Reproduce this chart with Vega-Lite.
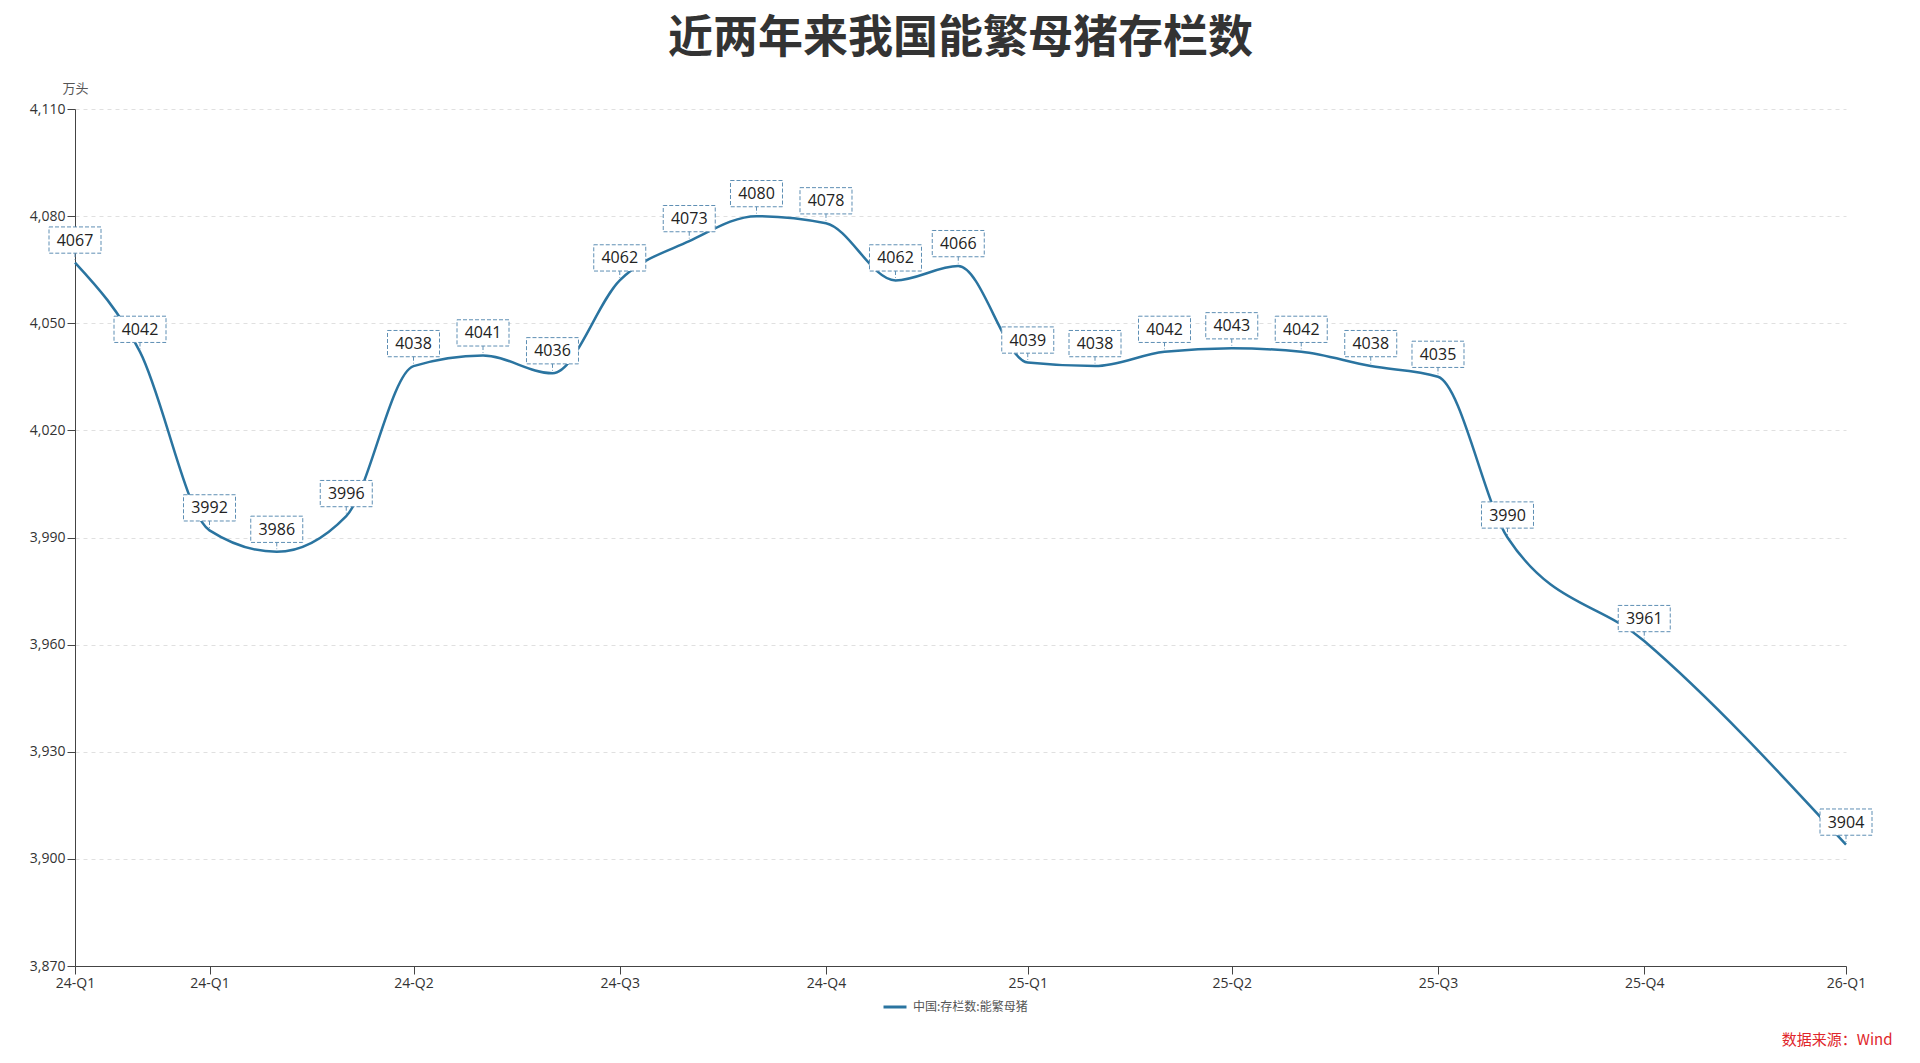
{
  "$schema": "https://vega.github.io/schema/vega-lite/v6.json",
  "width": 1771,
  "height": 857,
  "autosize": {"type": "none"},
  "padding": {"left": 75, "top": 109, "right": 74, "bottom": 97},
  "background": "white",
  "title": {
    "text": "近两年来我国能繁母猪存栏数",
    "font": "Noto Sans CJK SC",
    "fontSize": 45,
    "fontWeight": "bold",
    "color": "#333333",
    "anchor": "middle",
    "frame": "group",
    "offset": 20
  },
  "data": {
    "values": [
      {"date": "2024-01-31", "value": 4067},
      {"date": "2024-02-29", "value": 4042},
      {"date": "2024-03-31", "value": 3992},
      {"date": "2024-04-30", "value": 3986},
      {"date": "2024-05-31", "value": 3996},
      {"date": "2024-06-30", "value": 4038},
      {"date": "2024-07-31", "value": 4041},
      {"date": "2024-08-31", "value": 4036},
      {"date": "2024-09-30", "value": 4062},
      {"date": "2024-10-31", "value": 4073},
      {"date": "2024-11-30", "value": 4080},
      {"date": "2024-12-31", "value": 4078},
      {"date": "2025-01-31", "value": 4062},
      {"date": "2025-02-28", "value": 4066},
      {"date": "2025-03-31", "value": 4039},
      {"date": "2025-04-30", "value": 4038},
      {"date": "2025-05-31", "value": 4042},
      {"date": "2025-06-30", "value": 4043},
      {"date": "2025-07-31", "value": 4042},
      {"date": "2025-08-31", "value": 4038},
      {"date": "2025-09-30", "value": 4035},
      {"date": "2025-10-31", "value": 3990},
      {"date": "2025-12-31", "value": 3961},
      {"date": "2026-03-31", "value": 3904}
    ]
  },
  "encoding": {
    "x": {
      "field": "date",
      "type": "temporal",
      "scale": {
        "type": "utc",
        "nice": false,
        "domain": [
          {"year": 2024, "month": 1, "date": 31, "utc": true},
          {"year": 2026, "month": 3, "date": 31, "utc": true}
        ]
      },
      "axis": {
        "title": "数据来源：Wind",
        "titleX": 1817,
        "titleY": 73,
        "titleAlign": "right",
        "titleBaseline": "middle",
        "titleColor": "#e0262b",
        "titleFont": "Noto Sans CJK SC",
        "titleFontSize": 15,
        "titleFontWeight": "normal",
        "values": [
          {"year": 2024, "month": 1, "date": 31, "utc": true},
          {"year": 2024, "month": 3, "date": 31, "utc": true},
          {"year": 2024, "month": 6, "date": 30, "utc": true},
          {"year": 2024, "month": 9, "date": 30, "utc": true},
          {"year": 2024, "month": 12, "date": 31, "utc": true},
          {"year": 2025, "month": 3, "date": 31, "utc": true},
          {"year": 2025, "month": 6, "date": 30, "utc": true},
          {"year": 2025, "month": 9, "date": 30, "utc": true},
          {"year": 2025, "month": 12, "date": 31, "utc": true},
          {"year": 2026, "month": 3, "date": 31, "utc": true}
        ],
        "labelExpr": "utcFormat(datum.value, '%y') + '-Q' + utcquarter(datum.value)",
        "labelFont": "Open Sans",
        "labelFontSize": 14,
        "labelColor": "#333333",
        "labelPadding": 2,
        "labelOverlap": false,
        "labelFlush": false,
        "domainColor": "#444444",
        "domainWidth": 1,
        "tickColor": "#444444",
        "tickSize": 8,
        "grid": false
      }
    },
    "y": {
      "field": "value",
      "type": "quantitative",
      "scale": {"domain": [3870, 4110], "zero": false, "nice": false},
      "axis": {
        "title": "万头",
        "titleAngle": 0,
        "titleX": 0,
        "titleY": -21,
        "titleAlign": "center",
        "titleBaseline": "middle",
        "titleFont": "Noto Sans CJK SC",
        "titleFontSize": 13,
        "titleFontWeight": "normal",
        "titleColor": "#555555",
        "values": [3870, 3900, 3930, 3960, 3990, 4020, 4050, 4080, 4110],
        "format": ",d",
        "labelFont": "Open Sans",
        "labelFontSize": 14,
        "labelColor": "#333333",
        "labelPadding": 2,
        "domainColor": "#444444",
        "tickColor": "#444444",
        "tickSize": 8,
        "grid": true,
        "gridColor": "#e0e0e0",
        "gridDash": [4, 4],
        "gridWidth": 1
      }
    }
  },
  "layer": [
    {
      "mark": {"type": "line", "interpolate": "monotone", "strokeWidth": 2.5},
      "encoding": {
        "color": {
          "datum": "中国:存栏数:能繁母猪",
          "type": "nominal",
          "scale": {"range": ["#2a74a0"]},
          "legend": {
            "title": null,
            "orient": "none",
            "legendX": 807,
            "legendY": 885,
            "direction": "horizontal",
            "labelFont": "Noto Sans CJK SC",
            "labelFontSize": 12,
            "labelColor": "#555555",
            "labelOffset": 5,
            "symbolType": "stroke",
            "symbolSize": 529,
            "symbolStrokeWidth": 3
          }
        }
      }
    },
    {
      "mark": {
        "type": "point",
        "shape": "M-1,-1.37H1V-0.36H-1Z M0,-0.36V-0.1",
        "size": 2704,
        "fill": "white",
        "fillOpacity": 1,
        "stroke": "#5f8fb4",
        "strokeWidth": 1,
        "strokeDash": [4, 2],
        "opacity": 1
      }
    },
    {
      "mark": {
        "type": "text",
        "dy": -22,
        "baseline": "middle",
        "align": "center",
        "font": "Open Sans",
        "fontSize": 16,
        "color": "#222222"
      },
      "encoding": {
        "text": {"field": "value", "type": "quantitative", "format": "d"}
      }
    }
  ],
  "config": {"view": {"stroke": null}}
}
